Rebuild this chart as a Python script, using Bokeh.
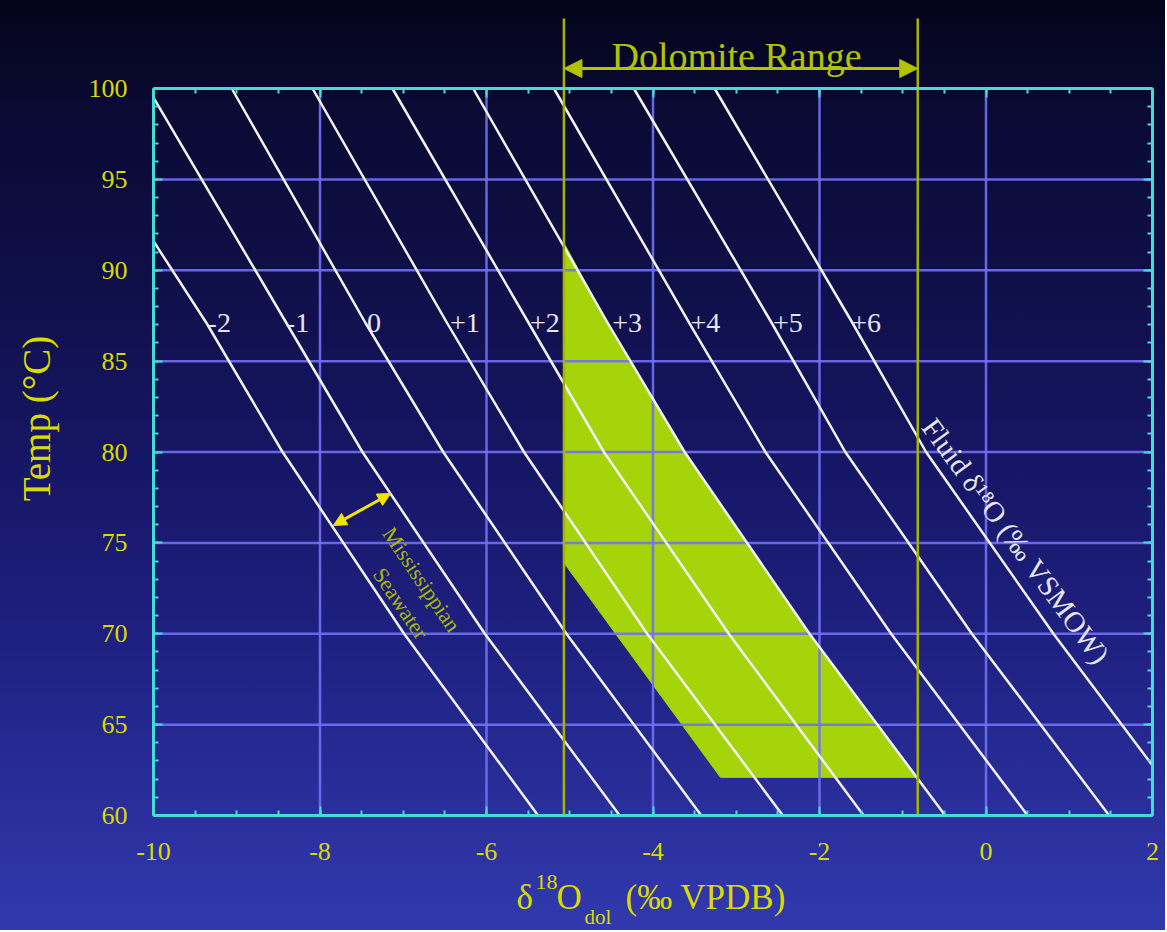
import numpy as np
from bokeh.plotting import figure
from bokeh.models import (Range1d, LinearAxis, FixedTicker, Label, Arrow, NormalHead,
                          CustomJSTickFormatter, InlineStyleSheet, ColumnDataSource)
from bokeh.core.properties import value
from bokeh.embed import file_html
from bokeh.resources import INLINE

# ---------------- data ----------------
fluid_d18O = [-2, -1, 0, 1, 2, 3, 4, 5, 6]          # fluid d18O (permil VSMOW)
# isopleths: dolomite d18O (permil VPDB) at the listed temperatures (deg C)
iso_x = [
    [-10.00, -9.36, -8.45, -6.99, -5.38],
    [-10.00, -8.40, -7.49, -6.02, -4.40],
    [-9.06, -7.45, -6.52, -5.04, -3.42],
    [-8.09, -6.47, -5.55, -4.07, -2.44],
    [-7.13, -5.49, -4.59, -3.09, -1.47],
    [-6.16, -4.54, -3.62, -2.12, -0.49],
    [-5.19, -3.56, -2.65, -1.14, 0.50],
    [-4.23, -2.57, -1.69, -0.17, 1.48],
    [-3.26, -1.60, -0.72, 0.81, 2.00],
]
iso_T = [
    [91.6, 87.07, 80, 70, 60],
    [99.5, 87.07, 80, 70, 60],
    [100, 87.07, 80, 70, 60],
    [100, 87.07, 80, 70, 60],
    [100, 87.07, 80, 70, 60],
    [100, 87.07, 80, 70, 60],
    [100, 87.07, 80, 70, 60],
    [100, 87.07, 80, 70, 60],
    [100, 87.07, 80, 70, 62.75],
]

line_labels = ["-2", "-1", "0", "+1", "+2", "+3", "+4", "+5", "+6"]
line_label_x = [-9.21, -8.27, -7.35, -6.26, -5.30, -4.31, -3.37, -2.38, -1.44]
line_label_T = 87.1

dolomite_min, dolomite_max = -5.07, -0.82            # dolomite range (permil VPDB)

# field of dolomite compositions
field_x = [-5.07, -5.07, -3.19, -0.82, -2.12, -3.62, -4.54, -5.07]
field_T = [91.5, 73.9, 62.1, 62.1, 70.0, 80.0, 87.07, 91.5]

seawater_arrow = ((-7.84, 75.96), (-7.15, 77.72))

x_ticks = [-10, -8, -6, -4, -2, 0, 2]
x_tick_labels = ["-10", "-8", "-6", "-4", "-2", "0", "2"]
y_ticks = [60, 65, 70, 75, 80, 85, 90, 95, 100]
y_tick_labels = ["60", "65", "70", "75", "80", "85", "90", "95", "100"]
x_grid = [-8, -6, -4, -2, 0]
y_grid = [65, 70, 75, 80, 85, 90, 95]

# ---------------- layout / styles ----------------
FONT = "Liberation Serif"
CYAN = "#46dcd6"
GRID = "#7270f6"
YELLOW = "#dada00"
OLIVE = "#b2c400"
WHITE = "#f2f2f2"
GREEN = "#a5d40a"

W, H = 1165, 930
BOX_L, BOX_R, BOX_T, BOX_B = 153, 1152, 88, 815      # plot box in canvas px
X0, X1, Y0, Y1 = -10, 2, 60, 100
sx = (BOX_R - BOX_L) / (X1 - X0)
sy = (BOX_B - BOX_T) / (Y1 - Y0)

def px_to_x(px):
    return X0 + (px - BOX_L) / sx

def py_to_T(py):
    return Y1 - (py - BOX_T) / sy

p = figure(width=W, height=H,
           x_range=Range1d(px_to_x(0), px_to_x(W)), y_range=Range1d(py_to_T(H), py_to_T(0)),
           output_backend="svg", toolbar_location=None, x_axis_location=None, y_axis_location=None,
           min_border=0, min_border_left=0, min_border_right=0, min_border_top=0, min_border_bottom=0)
p.grid.visible = False

p.stylesheets = [InlineStyleSheet(css=""":host { background: linear-gradient(to bottom,
    #04041a 0%, #0a0a34 12%, #0f0f48 30%, #161666 50%, #1f2182 70%, #2a2f9c 88%, #3139ad 100%); }""")]
p.background_fill_color = None
p.border_fill_color = None
p.outline_line_color = None

x_minor = list(np.arange(-10, 2.001, 0.5))
y_minor = list(range(60, 101))

def make_axis(ticks, minor, loc, bounds, labels=None):
    ax = LinearAxis(fixed_location=loc, bounds=bounds)
    ax.ticker = FixedTicker(ticks=ticks, minor_ticks=minor)
    ax.axis_line_color = CYAN
    ax.axis_line_width = 3
    ax.major_tick_line_color = CYAN
    ax.minor_tick_line_color = CYAN
    ax.major_tick_line_width = 2
    ax.minor_tick_line_width = 2
    ax.major_tick_in = 9
    ax.major_tick_out = 0
    ax.minor_tick_in = 5
    ax.minor_tick_out = 0
    if labels is None:
        ax.formatter = CustomJSTickFormatter(code="return ''")
        ax.major_label_standoff = 0
    else:
        ax.major_label_overrides = {t: l for t, l in zip(ticks, labels)}
        ax.major_label_text_font = FONT
        ax.major_label_text_font_size = "26px"
        ax.major_label_text_color = YELLOW
    return ax

ax_b = make_axis(x_ticks, x_minor, Y0, (X0, X1), x_tick_labels)
ax_b.major_label_standoff = 27
p.add_layout(ax_b, "below")
ax_l = make_axis(y_ticks, y_minor, X0, (Y0, Y1), y_tick_labels)
ax_l.major_label_standoff = 26
p.add_layout(ax_l, "left")
p.add_layout(make_axis(x_ticks, x_minor, Y1, (X0, X1)), "above")
p.add_layout(make_axis(y_ticks, y_minor, X1, (Y0, Y1)), "right")

# grid lines limited to the plot box
p.segment(x0=x_grid, y0=[Y0] * len(x_grid), x1=x_grid, y1=[Y1] * len(x_grid),
          line_color=GRID, line_width=2.5, line_alpha=0.9, level="underlay")
p.segment(x0=[X0] * len(y_grid), y0=y_grid, x1=[X1] * len(y_grid), y1=y_grid,
          line_color=GRID, line_width=2.5, line_alpha=0.9, level="underlay")

# dolomite field (under grid)
p.patch(field_x, field_T, fill_color=GREEN, line_color=GREEN, line_width=1, level="image")

# fluid isopleths
p.multi_line(iso_x, iso_T, line_color=WHITE, line_width=2.5, line_join="round")

# isopleth labels
src = ColumnDataSource(dict(x=line_label_x, y=[line_label_T] * len(line_labels), t=line_labels))
p.text("x", "y", text="t", source=src, text_font=value(FONT), text_font_size="28px",
       text_color="#e6e6ee", text_align="center", text_baseline="middle")

# dolomite range verticals, arrow and title
range_top = py_to_T(18)
p.segment(x0=[dolomite_min, dolomite_max], y0=[Y0, Y0], x1=[dolomite_min, dolomite_max],
          y1=[range_top, range_top], line_color="#a6b400", line_width=2.5)
arrow_T = py_to_T(68)
p.add_layout(Arrow(start=NormalHead(size=18, fill_color=OLIVE, line_color=OLIVE),
                   end=NormalHead(size=18, fill_color=OLIVE, line_color=OLIVE),
                   x_start=dolomite_min, y_start=arrow_T, x_end=dolomite_max, y_end=arrow_T,
                   line_color=OLIVE, line_width=3))
p.add_layout(Label(x=px_to_x(736), y=py_to_T(55), text="Dolomite Range", text_font=FONT,
                   text_font_size="38px", text_color=OLIVE, text_align="center",
                   text_baseline="alphabetic"))

# Mississippian seawater arrow & text
(sx0, sy0), (sx1, sy1) = seawater_arrow
p.add_layout(Arrow(start=NormalHead(size=13, fill_color="#f2e400", line_color="#f2e400"),
                   end=NormalHead(size=13, fill_color="#f2e400", line_color="#f2e400"),
                   x_start=sx0, y_start=sy0, x_end=sx1, y_end=sy1,
                   line_color="#f2e400", line_width=3))
p.add_layout(Label(x=-6.78, y=72.99, text="Mississippian", text_font=FONT, text_font_size="22px",
                   text_color="#a8b800", angle=-56, angle_units="deg",
                   text_align="center", text_baseline="middle"))
p.add_layout(Label(x=-7.03, y=71.67, text="Seawater", text_font=FONT, text_font_size="22px",
                   text_color="#a8b800", angle=-56, angle_units="deg",
                   text_align="center", text_baseline="middle"))

# fluid label
p.add_layout(Label(x=0.36, y=75.1, text="Fluid δ¹⁸O (‰ VSMOW)", text_font=FONT,
                   text_font_size="29px", text_color="#e6e6ee", angle=-53.8, angle_units="deg",
                   text_align="center", text_baseline="middle"))

# axis titles
p.add_layout(Label(x=px_to_x(36), y=py_to_T(418), text="Temp (°C)", text_font=FONT,
                   text_font_size="39px", text_color=YELLOW, angle=90, angle_units="deg",
                   text_align="center", text_baseline="middle"))

title_parts = [
    ("δ", 516, 897, "35px"),
    ("18", 535, 881, "22px"),
    ("O", 556, 897, "35px"),
    ("dol", 584, 916, "21px"),
    ("(‰ VPDB)", 625, 897, "35px"),
]
for txt, px, py, fs in title_parts:
    p.add_layout(Label(x=px_to_x(px), y=py_to_T(py), text=txt, text_font=FONT,
                       text_font_size=fs, text_color=YELLOW, text_align="left",
                       text_baseline="alphabetic"))

open("out.html", "w").write(file_html(p, INLINE))
